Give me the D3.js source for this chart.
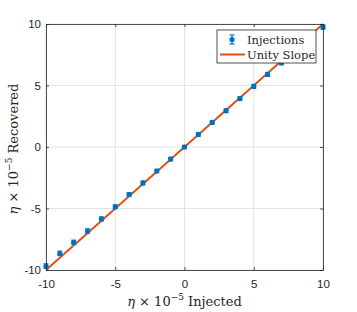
<!DOCTYPE html>
<html>
<head>
<meta charset="utf-8">
<script src="https://cdn.jsdelivr.net/npm/d3@7"></script>
<style>
  body { margin: 0; background: #fff; }
  svg { display: block; }
</style>
</head>
<body>
<div id="chart"></div>
<script>
// injected vs recovered values (units of 1e-5)
const injected  = [-10, -9, -8, -7, -6, -5, -4, -3, -2, -1, 0, 1, 2, 3, 4, 5, 6, 7, 8, 9, 10];
const recovered = [-9.68, -8.65, -7.75, -6.83, -5.85, -4.86, -3.86, -2.92, -1.95, -0.98, 0, 1.02, 2.0, 2.95, 3.94, 4.93, 5.9, 6.85, 7.85, 8.8, 9.75];
const errs      = [0.18, 0.18, 0.17, 0.17, 0.16, 0.16, 0.15, 0.15, 0.14, 0.14, 0.13, 0.14, 0.14, 0.15, 0.15, 0.16, 0.16, 0.17, 0.17, 0.18, 0.18];
const tickVals  = [-10, -5, 0, 5, 10];

const cfg = { width: 357, height: 312, margin: { left: 46, right: 34, top: 24, bottom: 42 } };
const blue = "#0072BD", orange = "#D95319", axisCol = "#262626";
const sans = "Liberation Sans, Arial, sans-serif";
const serif = "DejaVu Serif, serif";

const svg = d3.select("#chart").append("svg")
  .attr("width", cfg.width).attr("height", cfg.height);

const x = d3.scaleLinear([-10, 10], [cfg.margin.left, cfg.width - cfg.margin.right]);
const y = d3.scaleLinear([-10, 10], [cfg.height - cfg.margin.bottom, cfg.margin.top]);

// gridlines
const grid = svg.append("g").attr("class", "gridlines");
grid.selectAll("line.gx").data(tickVals).join("line")
  .attr("x1", d => x(d)).attr("x2", d => x(d))
  .attr("y1", y(-10)).attr("y2", y(10))
  .style("stroke", "#e3e3e3").style("stroke-width", 1);
grid.selectAll("line.gy").data(tickVals).join("line")
  .attr("y1", d => y(d)).attr("y2", d => y(d))
  .attr("x1", x(-10)).attr("x2", x(10))
  .style("stroke", "#e3e3e3").style("stroke-width", 1);

// axes (ticks inward)
const tl = 3;
const fmt = d => String(d);
const xAxis = d3.axisBottom(x).tickValues(tickVals).tickSizeInner(-tl).tickSizeOuter(0).tickPadding(10).tickFormat(fmt);
const yAxis = d3.axisLeft(y).tickValues(tickVals).tickSizeInner(-tl).tickSizeOuter(0).tickPadding(5).tickFormat(fmt);
const xTop = d3.axisTop(x).tickValues(tickVals).tickSizeInner(-tl).tickSizeOuter(0).tickFormat("");
const yRight = d3.axisRight(y).tickValues(tickVals).tickSizeInner(-tl).tickSizeOuter(0).tickFormat("");

function styleAxis(g) {
  g.attr("font-family", sans).attr("font-size", 11.5);
  g.select(".domain").style("stroke", axisCol).style("stroke-width", 0.8);
  g.selectAll(".tick line").style("stroke", axisCol).style("stroke-width", 0.8);
  g.selectAll(".tick text").style("fill", axisCol);
}

// unity slope line
svg.append("line")
  .attr("x1", x(-10)).attr("y1", y(-10)).attr("x2", x(10)).attr("y2", y(10))
  .style("stroke", orange).style("stroke-width", 2);

// error bars + points
const pts = injected.map((v, i) => ({ x: v, y: recovered[i], e: errs[i] }));
const eb = svg.append("g").attr("class", "errorbars");
eb.selectAll("line.v").data(pts).join("line")
  .attr("x1", d => x(d.x)).attr("x2", d => x(d.x))
  .attr("y1", d => y(d.y - d.e)).attr("y2", d => y(d.y + d.e))
  .style("stroke", blue).style("stroke-width", 1.2);
eb.selectAll("line.c1").data(pts).join("line")
  .attr("x1", d => x(d.x) - 2.5).attr("x2", d => x(d.x) + 2.5)
  .attr("y1", d => y(d.y - d.e)).attr("y2", d => y(d.y - d.e))
  .style("stroke", blue).style("stroke-width", 1.2);
eb.selectAll("line.c2").data(pts).join("line")
  .attr("x1", d => x(d.x) - 2.5).attr("x2", d => x(d.x) + 2.5)
  .attr("y1", d => y(d.y + d.e)).attr("y2", d => y(d.y + d.e))
  .style("stroke", blue).style("stroke-width", 1.2);
eb.selectAll("circle").data(pts).join("circle")
  .attr("cx", d => x(d.x)).attr("cy", d => y(d.y)).attr("r", 2.6)
  .style("fill", blue);

svg.append("g").attr("transform", `translate(0,${y(-10)})`).call(xAxis).call(styleAxis);
svg.append("g").attr("transform", `translate(${x(-10)},0)`).call(yAxis).call(styleAxis);
svg.append("g").attr("transform", `translate(0,${y(10)})`).call(xTop).call(styleAxis);
svg.append("g").attr("transform", `translate(${x(10)},0)`).call(yRight).call(styleAxis);

// axis labels
function axisLabel(sel, word) {
  sel.attr("font-family", serif).attr("font-size", 13).style("fill", axisCol)
    .attr("text-anchor", "middle");
  sel.append("tspan").attr("font-style", "italic").text("η");
  sel.append("tspan").text(" × 10");
  sel.append("tspan").attr("font-size", 9).attr("dy", -6).text("−5");
  sel.append("tspan").attr("dy", 6).text(" " + word);
}
svg.append("text").attr("x", x(0)).attr("y", 306).call(axisLabel, "Injected");
svg.append("text").attr("transform", `translate(18,${y(0) + 2}) rotate(-90)`).call(axisLabel, "Recovered");

// legend
const lg = svg.append("g").attr("transform", "translate(217,30)");
lg.append("rect").attr("width", 99).attr("height", 33)
  .style("fill", "#fff").style("stroke", axisCol).style("stroke-width", 0.8);
const mx = 15;
lg.append("line").attr("x1", mx).attr("x2", mx).attr("y1", 5).attr("y2", 14)
  .style("stroke", blue).style("stroke-width", 1.2);
lg.append("line").attr("x1", mx - 2.5).attr("x2", mx + 2.5).attr("y1", 5).attr("y2", 5)
  .style("stroke", blue).style("stroke-width", 1.2);
lg.append("line").attr("x1", mx - 2.5).attr("x2", mx + 2.5).attr("y1", 14).attr("y2", 14)
  .style("stroke", blue).style("stroke-width", 1.2);
lg.append("circle").attr("cx", mx).attr("cy", 9.5).attr("r", 2.6).style("fill", blue);
lg.append("line").attr("x1", 3).attr("x2", 28).attr("y1", 24.5).attr("y2", 24.5)
  .style("stroke", orange).style("stroke-width", 2);
lg.selectAll("text.leg").data(["Injections", "Unity Slope"]).join("text")
  .attr("x", 30).attr("y", (d, i) => 14 + i * 15)
  .attr("font-family", serif).attr("font-size", 11.5).style("fill", axisCol)
  .text(d => d);
</script>
</body>
</html>
